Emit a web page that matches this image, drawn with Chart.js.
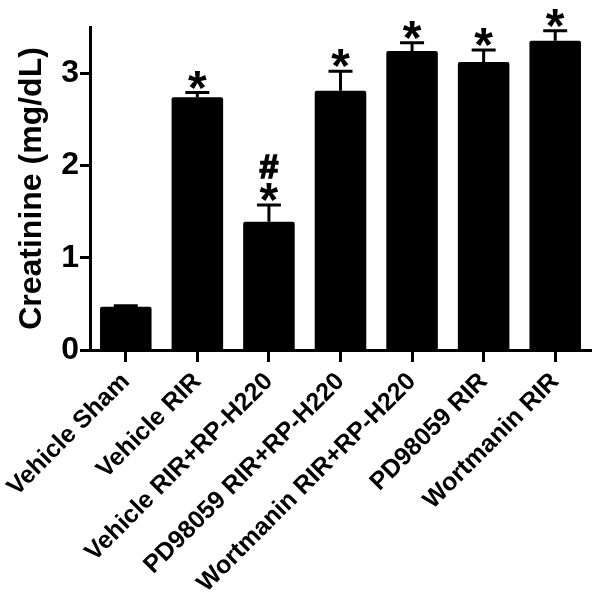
<!DOCTYPE html>
<html>
<head>
<meta charset="utf-8">
<script src="https://cdn.jsdelivr.net/npm/chart.js@4"></script>
<style>
  html, body { margin: 0; padding: 0; background: #fff; }
</style>
</head>
<body>
<canvas id="creatinineChart" width="601" height="602"></canvas>
<script>
const groups = [
  'Vehicle Sham',
  'Vehicle RIR',
  'Vehicle RIR+RP-H220',
  'PD98059 RIR+RP-H220',
  'Wortmanin RIR+RP-H220',
  'PD98059 RIR',
  'Wortmanin RIR'
];
const creatinine = [0.47, 2.74, 1.39, 2.81, 3.24, 3.12, 3.35];
const creatinineSem = [0.01, 0.05, 0.18, 0.21, 0.09, 0.13, 0.11];
// markers stacked above each error bar, bottom first
const marks = [[], ['*'], ['*', '#'], ['*'], ['*'], ['*'], ['*']];
const yTicks = [0, 1, 2, 3];

const FONT = "'Liberation Sans', Arial, sans-serif";

// error bars (upper only) + significance marks
const errorBars = {
  id: 'errorBars',
  afterDatasetsDraw(chart) {
    const { ctx, scales: { x, y } } = chart;
    ctx.save();
    ctx.strokeStyle = '#000';
    ctx.fillStyle = '#000';
    creatinine.forEach((v, i) => {
      const cx = x.getPixelForValue(i);
      const top = y.getPixelForValue(v + creatinineSem[i]);
      const base = y.getPixelForValue(v);
      ctx.lineWidth = 3;
      ctx.beginPath();
      ctx.moveTo(cx, base);
      ctx.lineTo(cx, top);
      ctx.moveTo(cx - 12, top);
      ctx.lineTo(cx + 12, top);
      ctx.stroke();

      // stack the marks using their real ink box
      let yy = top - 4;
      ctx.textAlign = 'center';
      ctx.textBaseline = 'alphabetic';
      marks[i].forEach(m => {
        ctx.font = (m === '*' ? 'bold 48px ' : 'bold 34px ') + FONT;
        const tm = ctx.measureText(m);
        const baseline = yy - tm.actualBoundingBoxDescent;
        ctx.fillText(m, cx, baseline);
        if (m === '#') {
          // the reference hash is heavier than the font's bold
          ctx.lineWidth = 1.6;
          ctx.strokeText(m, cx, baseline);
        }
        yy = baseline - tm.actualBoundingBoxAscent - 5;
      });
    });
    ctx.restore();
  }
};

new Chart(document.getElementById('creatinineChart'), {
  type: 'bar',
  data: {
    labels: groups,
    datasets: [{
      label: 'Creatinine',
      data: creatinine,
      backgroundColor: '#000',
      borderWidth: 0,
      borderRadius: 2,
      barPercentage: 0.72,
      categoryPercentage: 1
    }]
  },
  options: {
    responsive: false,
    animation: false,
    layout: { padding: { top: 27, right: 10, left: 0, bottom: 0 } },
    plugins: {
      legend: { display: false },
      tooltip: { enabled: false }
    },
    scales: {
      x: {
        afterFit(scale) { scale.height = 252; },
        border: { display: true, color: '#000', width: 3 },
        grid: {
          display: true,
          drawOnChartArea: false,
          drawTicks: true,
          offset: false,
          tickLength: 12,
          tickWidth: 3,
          tickColor: '#000'
        },
        ticks: {
          autoSkip: false,
          minRotation: 45,
          maxRotation: 45,
          padding: 5,
          color: '#000',
          font: { family: FONT, size: 25, weight: 'bold' }
        }
      },
      y: {
        min: 0,
        max: 3.5,
        afterFit(scale) { scale.width = 90; },
        afterBuildTicks(scale) {
          scale.ticks = yTicks.map(v => ({ value: v }));
        },
        border: { display: true, color: '#000', width: 3 },
        grid: {
          display: true,
          drawOnChartArea: false,
          drawTicks: true,
          tickLength: 10,
          tickWidth: 3,
          tickColor: '#000'
        },
        ticks: {
          padding: 1,
          color: '#000',
          font: { family: FONT, size: 32, weight: 'bold' }
        },
        title: {
          display: true,
          text: 'Creatinine (mg/dL)',
          color: '#000',
          padding: { top: 13, bottom: 0 },
          font: { family: FONT, size: 32, weight: 'bold' }
        }
      }
    }
  },
  plugins: [errorBars]
});
</script>
</body>
</html>
